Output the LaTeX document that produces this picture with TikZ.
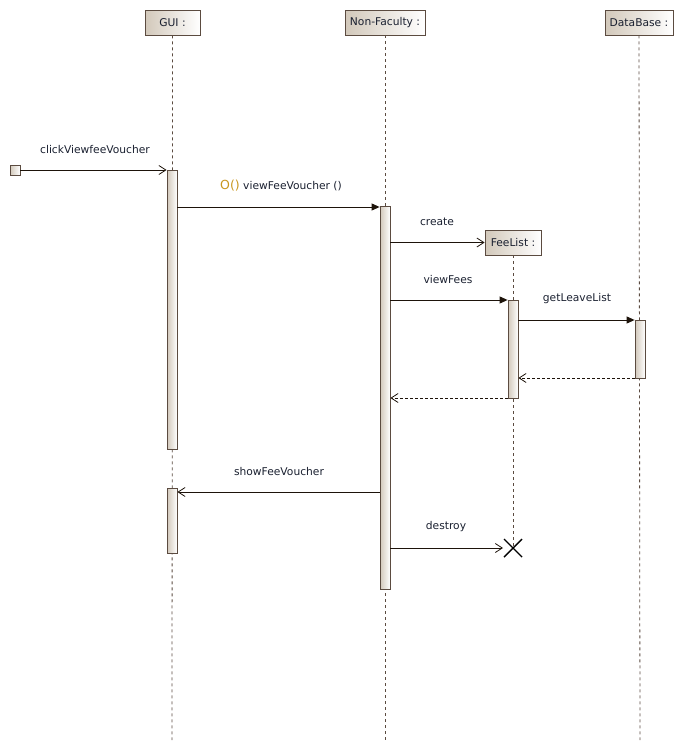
\documentclass[tikz,border=0pt]{standalone}
\usepackage{fontspec}
\setmainfont{DejaVu Sans}
\usetikzlibrary{arrows.meta}
\definecolor{edge}{HTML}{5B4B40}
\definecolor{tan}{HTML}{D2C8BA}
\definecolor{gold}{HTML}{C8961E}
\definecolor{ink}{HTML}{1A2030}
\tikzset{
  obj/.style={draw=edge, line width=0.8pt, left color=tan, right color=white, minimum height=25pt, inner sep=0pt, font=\fontsize{10.7}{12}\selectfont, text=ink},
  act/.style={draw=edge, line width=0.8pt, left color=tan, right color=white, minimum width=10pt, inner sep=0pt},
  life/.style={draw=edge, line width=0.8pt, dash pattern=on 3pt off 3pt},
  call/.style={draw=black!85!brown, line width=0.9pt, -{Triangle[length=8pt,width=7pt]}},
  async/.style={draw=black!85!brown, line width=0.9pt, -{Straight Barb[length=7pt,width=9pt,line width=0.8pt]}},
  ret/.style={draw=black!85!brown, line width=0.8pt, dash pattern=on 3pt off 2pt, -{Straight Barb[length=7pt,width=9pt,line width=0.8pt]}},
  lbl/.style={font=\fontsize{10.7}{12}\selectfont, text=ink, inner sep=0pt},
}
\begin{document}
\begin{tikzpicture}[x=1pt,y=-1pt]
\useasboundingbox (0,0) rectangle (685,750);
% headers
\node[obj, minimum width=55pt] (gui) at (172.5,22.5) {GUI :};
\node[obj, minimum width=80pt] (nf) at (385,22.5) {Non-Faculty :};
\node[obj, minimum width=68pt] (db) at (639,22.5) {DataBase :};
\node[obj, minimum width=56pt] (fl) at (513,242.5) {FeeList :};
% lifeline ends
\coordinate (guiEnd) at (172,740);
\coordinate (nfEnd) at (385,740);
\coordinate (dbEnd) at (640,740);
\coordinate (flEnd) at (513,548);
\draw[life] (gui.south) -- (guiEnd);
\draw[life] (nf.south) -- (nfEnd);
\draw[life] (db.south) -- (dbEnd);
\draw[life] (fl.south) -- (flEnd);
% activations
\node[act, minimum height=279pt] (guiA) at (172,309.5) {};
\node[act, minimum height=65pt] (guiB) at (172,520.5) {};
\node[act, minimum height=383pt] (nfA) at (385,397.5) {};
\node[act, minimum height=98pt] (flA) at (513,349) {};
\node[act, minimum height=58pt] (dbA) at (640,349) {};
% start gate
\node[draw=edge, line width=0.8pt, left color=tan, right color=white, minimum size=10pt, inner sep=0pt] (gate) at (15,170) {};
% messages
\draw[async] (gate.east) -- (guiA.west |- gate.east);
\node[lbl] (l1) at (95,150) {clickViewfeeVoucher};
\coordinate (m2) at (0,207);
\draw[call] (guiA.east |- m2) -- (nfA.west |- m2);
\node[lbl] (l2) at (281,186) {\textcolor{gold}{\fontsize{12.5}{12}\selectfont O()} viewFeeVoucher ()};
\draw[async] (nfA.east |- fl.west) -- (fl.west);
\node[lbl] (l3) at (437,222) {create};
\coordinate (m4) at (0,300);
\draw[call] (nfA.east |- m4) -- (flA.west |- m4);
\node[lbl] (l4) at (448,280) {viewFees};
\coordinate (m5) at (0,320);
\draw[call] (flA.east |- m5) -- (dbA.west |- m5);
\node[lbl] (l5) at (577,299) {getLeaveList};
\coordinate (m6) at (0,378);
\draw[ret] (dbA.west |- m6) -- (flA.east |- m6);
\coordinate (m7) at (0,398);
\draw[ret] (flA.west |- m7) -- (nfA.east |- m7);
\coordinate (m8) at (0,492);
\draw[async] (nfA.west |- m8) -- (guiB.east |- m8);
\node[lbl] (l8) at (279,472) {showFeeVoucher};
% destroy
\draw[async] (nfA.east |- flEnd) -- ([xshift=-10pt]flEnd);
\draw[black, line width=1.4pt] ([shift={(-9,-9)}]flEnd) -- ([shift={(9,9)}]flEnd)
  ([shift={(-9,9)}]flEnd) -- ([shift={(9,-9)}]flEnd);
\node[lbl] (l9) at (446,527) {destroy};
\end{tikzpicture}
\end{document}
